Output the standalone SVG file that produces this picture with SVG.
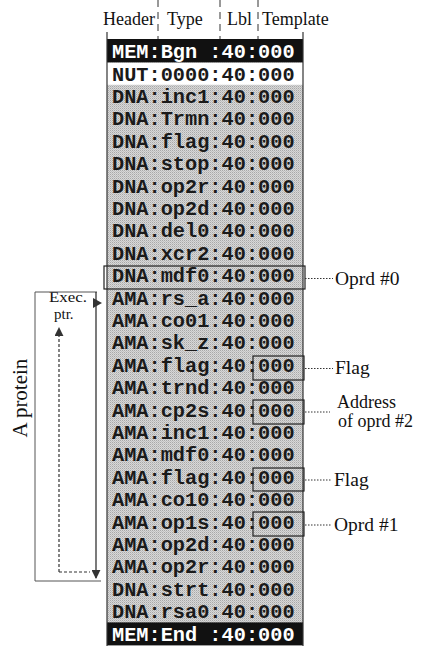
<svg xmlns="http://www.w3.org/2000/svg" width="424" height="649" viewBox="0 0 424 649">
<defs>
<pattern id="ht" width="2" height="2" patternUnits="userSpaceOnUse">
<rect width="2" height="2" fill="#d8d8d8"/>
<rect width="1" height="1" fill="#a8a8a8"/>
<rect x="1" y="1" width="1" height="1" fill="#c0c0c0"/>
</pattern>
<marker id="ah" viewBox="0 0 10 10" refX="9" refY="5" markerWidth="9" markerHeight="9" markerUnits="userSpaceOnUse" orient="auto">
<path d="M0,0 L10,5 L0,10 z" fill="#333"/>
</marker>
</defs>
<style>
.hdr{font-family:"Liberation Serif",serif;font-size:18px;fill:#111}
.ann{font-family:"Liberation Serif",serif;font-size:19.5px;fill:#111}
.sm{font-size:15px}
.cell{font-family:"Liberation Mono",monospace;font-size:20.3px;font-weight:bold;fill:#1a1a1a}
.inv{fill:#fff}
.tick{stroke:#333;stroke-width:1;stroke-dasharray:7 5;fill:none}
.lead{stroke:#333;stroke-width:1;stroke-dasharray:1.5 1.5;fill:none}
.box{fill:none;stroke:#222;stroke-width:1.2}
.brk{fill:none;stroke:#555;stroke-width:1}
</style>
<g id="header">
<text class="hdr" x="103" y="25">Header</text>
<text class="hdr" x="167" y="25">Type</text>
<text class="hdr" x="227" y="25">Lbl</text>
<text class="hdr" x="262" y="25">Template</text>
<line class="tick" x1="158" y1="0" x2="158" y2="40"/>
<line class="tick" x1="220" y1="0" x2="220" y2="40"/>
<line class="tick" x1="258" y1="0" x2="258" y2="40"/>
</g>
<g id="memory">
<rect x="107" y="40" width="196" height="605" fill="url(#ht)"/>
<rect x="107" y="62.4" width="196" height="22.4" fill="#fff"/>
<rect x="107" y="39" width="196" height="23.4" fill="#111"/>
<rect x="107" y="622.4" width="196" height="23" fill="#111"/>
<line x1="107" y1="32" x2="107" y2="646" stroke="#333" stroke-width="1.2"/>
<line x1="303" y1="32" x2="303" y2="646" stroke="#333" stroke-width="1.2"/>
<text class="cell inv" x="112" y="58.2">MEM:Bgn :40:000</text>
<text class="cell" x="112" y="80.6">NUT:0000:40:000</text>
<text class="cell" x="112" y="103">DNA:inc1:40:000</text>
<text class="cell" x="112" y="125.4">DNA:Trmn:40:000</text>
<text class="cell" x="112" y="147.8">DNA:flag:40:000</text>
<text class="cell" x="112" y="170.2">DNA:stop:40:000</text>
<text class="cell" x="112" y="192.6">DNA:op2r:40:000</text>
<text class="cell" x="112" y="215">DNA:op2d:40:000</text>
<text class="cell" x="112" y="237.4">DNA:del0:40:000</text>
<text class="cell" x="112" y="259.8">DNA:xcr2:40:000</text>
<text class="cell" x="112" y="282.2">DNA:mdf0:40:000</text>
<text class="cell" x="112" y="304.6">AMA:rs_a:40:000</text>
<text class="cell" x="112" y="327">AMA:co01:40:000</text>
<text class="cell" x="112" y="349.4">AMA:sk_z:40:000</text>
<text class="cell" x="112" y="371.8">AMA:flag:40:000</text>
<text class="cell" x="112" y="394.2">AMA:trnd:40:000</text>
<text class="cell" x="112" y="416.6">AMA:cp2s:40:000</text>
<text class="cell" x="112" y="439">AMA:inc1:40:000</text>
<text class="cell" x="112" y="461.4">AMA:mdf0:40:000</text>
<text class="cell" x="112" y="483.8">AMA:flag:40:000</text>
<text class="cell" x="112" y="506.2">AMA:co10:40:000</text>
<text class="cell" x="112" y="528.6">AMA:op1s:40:000</text>
<text class="cell" x="112" y="551">AMA:op2d:40:000</text>
<text class="cell" x="112" y="573.4">AMA:op2r:40:000</text>
<text class="cell" x="112" y="595.8">DNA:strt:40:000</text>
<text class="cell" x="112" y="618.2">DNA:rsa0:40:000</text>
<text class="cell inv" x="112" y="640.6">MEM:End :40:000</text>
</g>
<g id="box-oprd0"><rect class="box" x="104" y="266" width="201" height="23"/></g>
<g id="box-flag1"><rect class="box" x="253" y="356" width="51" height="24"/></g>
<g id="box-addr2"><rect class="box" x="253" y="400" width="51" height="24"/></g>
<g id="box-flag2"><rect class="box" x="253" y="468" width="51" height="23"/></g>
<g id="box-oprd1"><rect class="box" x="253" y="512" width="51" height="24"/></g>
<g id="labels">
<text class="ann" x="335" y="285">Oprd #0</text>
<text class="ann" x="335" y="374">Flag</text>
<text class="ann" x="337" y="408" style="font-size:18px">Address</text>
<text class="ann" x="338" y="427" style="font-size:18px">of oprd #2</text>
<text class="ann" x="334" y="486">Flag</text>
<text class="ann" x="334" y="531">Oprd #1</text>
<text class="ann sm" x="49" y="302" textLength="38" lengthAdjust="spacingAndGlyphs">Exec.</text>
<text class="ann sm" x="54" y="319">ptr.</text>
<text class="ann" transform="translate(27,398) rotate(-90)" text-anchor="middle" style="font-size:21px">A protein</text>
</g>
<g id="connectors">
<line class="lead" x1="305" y1="278.5" x2="333" y2="278.5"/>
<line class="lead" x1="305" y1="368.5" x2="333" y2="368.5"/>
<line class="lead" x1="305" y1="412" x2="330" y2="412"/>
<line class="lead" x1="305" y1="480" x2="332" y2="480"/>
<line class="lead" x1="305" y1="525" x2="332" y2="525"/>
<path class="brk" d="M97,292 H35 V581 H101"/>
<line x1="96" y1="292" x2="96" y2="578" stroke="#222" stroke-width="1.2" marker-end="url(#ah)"/>
<path d="M93,298 L102,303 L93,308 z" fill="#333"/>
<path d="M59,572 V328" fill="none" stroke="#333" stroke-width="1.2" stroke-dasharray="3 2" marker-end="url(#ah)"/>
<path d="M59,572 H90" fill="none" stroke="#333" stroke-width="1.2" stroke-dasharray="3 2"/>
</g>
</svg>
